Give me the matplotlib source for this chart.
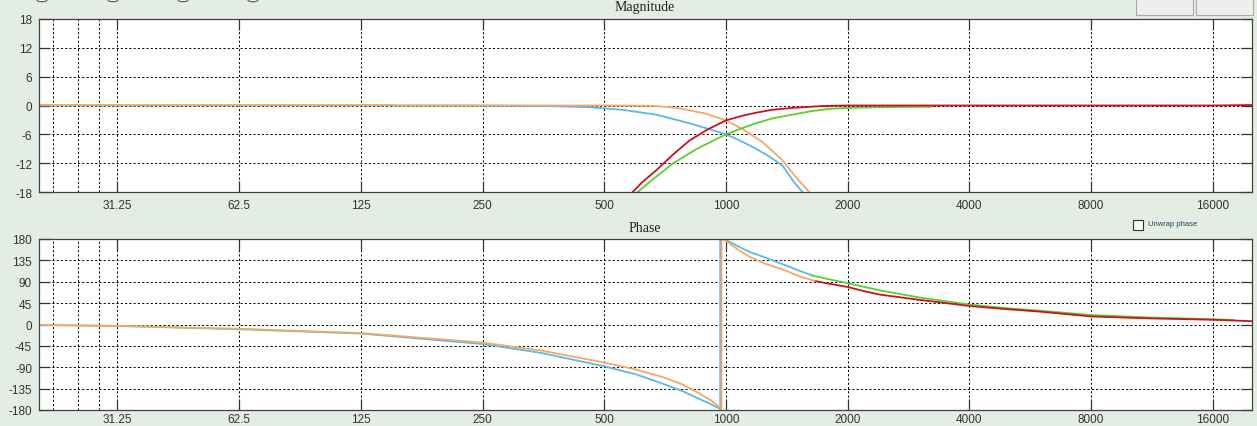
import matplotlib
matplotlib.use('Agg')
from matplotlib import pyplot as plt
from matplotlib.patches import Circle, Rectangle

# Axis ticks
freq_ticks = [31.25, 62.5, 125, 250, 500, 1000, 2000, 4000, 8000, 16000]
freq_tick_labels = ['31.25', '62.5', '125', '250', '500', '1000', '2000', '4000', '8000', '16000']
freq_minor = [21.7, 25.0, 28.1]
mag_ticks = [-18, -12, -6, 0, 6, 12, 18]
phase_ticks = [-180, -135, -90, -45, 0, 45, 90, 135, 180]

# Magnitude (dB)
blue_mag_f = [20, 200, 300, 374, 459, 555, 672, 812, 900, 1000, 1090, 1186, 1280, 1380, 1475, 1546, 1620]
blue_mag_db = [0, 0, -0.05, -0.15, -0.35, -0.9, -1.9, -3.7, -4.8, -6.0, -7.4, -9.0, -10.6, -12.5, -16.0, -18.0, -19.5]

orange_mag_f = [20, 150, 151, 500, 650, 720, 781, 892, 1000, 1099, 1231, 1380, 1489, 1606, 1680]
orange_mag_db = [0.1, 0.1, 0, 0, -0.05, -0.3, -0.7, -1.7, -3.1, -4.9, -7.6, -11.4, -14.9, -18.0, -20.0]

green_mag_f = [570, 605, 650, 738, 840, 920, 1000, 1090, 1186, 1300, 1460, 1620, 1800, 2000, 2400, 3230]
green_mag_db = [-20.0, -18.0, -15.8, -12.1, -9.2, -7.5, -6.0, -4.8, -3.7, -2.7, -1.9, -1.2, -0.7, -0.5, -0.35, -0.25]

red_mag_f = [560, 588, 620, 672, 740, 812, 900, 1000, 1090, 1186, 1300, 1460, 1733, 2000, 6000, 16000, 20000]
red_mag_db = [-20.0, -18.0, -16.0, -13.5, -10.2, -7.3, -5.0, -3.1, -2.2, -1.5, -0.9, -0.5, -0.1, 0, 0, 0, 0.1]

# Phase (degrees), wrapped to +-180
blue_ph_f = [20, 31.25, 62.5, 125, 250, 350, 500, 600, 700, 780, 850, 920, 968,
             968, 1000, 1070, 1142, 1250, 1380, 1500, 1637]
blue_ph_deg = [-1, -3, -10, -19, -41, -60, -88, -105, -125, -140, -155, -168, -178,
               180, 178, 165, 153, 141, 127, 115, 103]

orange_ph_f = [20, 31.25, 62.5, 125, 250, 350, 500, 600, 700, 780, 850, 920, 975,
               975, 1000, 1070, 1142, 1250, 1380, 1513, 1670]
orange_ph_deg = [-1, -3, -9, -18, -38, -55, -80, -95, -111, -126, -143, -160, -178,
                 180, 176, 158, 143, 128, 116, 102, 91]

green_ph_f = [1637, 1800, 2000, 2200, 2400, 3000, 4000, 5000, 6000, 8000, 11000, 16000, 18000]
green_ph_deg = [103, 95, 87, 79, 72, 57, 42, 34, 29, 20, 15, 11, 9.5]

red_ph_f = [1670, 1800, 2000, 2200, 2400, 3000, 4000, 5000, 6000, 8000, 11000, 16000, 20000]
red_ph_deg = [91, 86, 79, 70, 63, 52, 39, 32, 27, 17, 13, 10, 7]

blue_c = '#5cb8e4'
orange_c = '#f5a863'
green_c = '#5ad02a'
red_c = '#cc1020'
bg = '#e3ede3'

plt.rcParams['font.family'] = ['Liberation Sans', 'DejaVu Sans']

fig = plt.figure(figsize=(12.57, 4.27), dpi=100, facecolor=bg)
ax_mag = fig.add_axes([39 / 1257, 1 - 193 / 427, 1213 / 1257, 173 / 427])
ax_ph = fig.add_axes([39 / 1257, 1 - 411 / 427, 1213 / 1257, 171 / 427])


def style_axis(ax, yticks, xpad):
    ax.set_xscale('log', base=2)
    ax.set_xlim(20, 20000)
    ax.set_ylim(yticks[0], yticks[-1])
    ax.set_yticks(yticks)
    ax.set_yticklabels([str(t) for t in yticks])
    ax.set_xticks(freq_ticks)
    ax.set_xticklabels(freq_tick_labels)
    ax.set_xticks(freq_minor, minor=True)
    ax.xaxis.set_minor_formatter(plt.NullFormatter())
    ax.tick_params(which='major', direction='in', length=8, width=0.9, color='#333333',
                   top=True, right=True, labelsize=8.5, labelcolor='#333333', pad=5)
    ax.tick_params(axis='x', which='major', pad=xpad)
    ax.tick_params(which='minor', length=0)
    ax.grid(True, which='both', color='black', linestyle=(0, (2.2, 2.2)), linewidth=0.7)
    for s in ax.spines.values():
        s.set_color('#404040')
        s.set_linewidth(0.9)
    ax.set_facecolor('white')


style_axis(ax_mag, mag_ticks, 5)
style_axis(ax_ph, phase_ticks, 2.5)

ax_mag.plot(blue_mag_f, blue_mag_db, color=blue_c, lw=1.3)
ax_mag.plot(orange_mag_f, orange_mag_db, color=orange_c, lw=1.3)
ax_mag.plot(green_mag_f, green_mag_db, color=green_c, lw=1.3)
ax_mag.plot(red_mag_f, red_mag_db, color=red_c, lw=1.3)

ax_ph.plot(blue_ph_f, blue_ph_deg, color=blue_c, lw=1.3)
ax_ph.plot(orange_ph_f, orange_ph_deg, color=orange_c, lw=1.3)
ax_ph.plot(green_ph_f, green_ph_deg, color=green_c, lw=1.3)
ax_ph.plot(red_ph_f, red_ph_deg, color=red_c, lw=1.3)

# Titles
fig.text(645 / 1257, 1 - 8 / 427, 'Magnitude', ha='center', va='center',
         family=['Liberation Serif', 'DejaVu Serif'], fontsize=10, color='#222222')
fig.text(645 / 1257, 1 - 229 / 427, 'Phase', ha='center', va='center',
         family=['Liberation Serif', 'DejaVu Serif'], fontsize=10, color='#222222')

# cut-off radio buttons and buttons at the top edge
for cx in [42, 113, 183, 253]:
    fig.patches.append(Circle((cx / 1257, 1 - 1 / 427), 5 / 1257, transform=fig.transFigure,
                              facecolor='white', edgecolor='#555555', lw=0.8))
for bx in [1136, 1196]:
    fig.patches.append(Rectangle((bx / 1257, 1 - 16 / 427), 57 / 1257, 20 / 427,
                                 transform=fig.transFigure, facecolor='#eeeeee',
                                 edgecolor='#aaaaaa', lw=0.8))

# Unwrap phase checkbox
fig.patches.append(Rectangle((1133 / 1257, 1 - 231 / 427), 10 / 1257, 10 / 427,
                             transform=fig.transFigure, facecolor='white',
                             edgecolor='#333333', lw=0.8))
fig.text(1148 / 1257, 1 - 225 / 427, 'Unwrap phase', ha='left', va='center',
         fontsize=5.5, color='#224466')

plt.savefig('out.png', dpi=100, facecolor=bg)
